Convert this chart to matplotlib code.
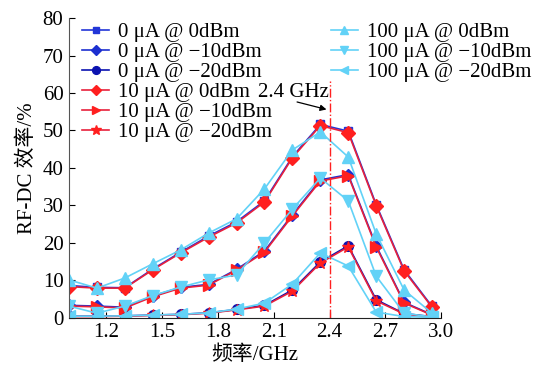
import matplotlib
matplotlib.use("Agg")
import matplotlib.pyplot as plt

plt.rcParams['font.family'] = ['Liberation Serif', 'Noto Sans CJK SC']
plt.rcParams['axes.unicode_minus'] = True

freq = [1.0, 1.15, 1.3, 1.45, 1.6, 1.75, 1.9, 2.05, 2.2, 2.35, 2.5, 2.65, 2.8, 2.95]

ua0_0dbm = [8.6, 8.1, 8.0, 13.0, 17.5, 21.8, 25.6, 31.2, 43.0, 51.6, 49.8, 30.2, 12.8, 3.0]
ua0_m10dbm = [3.3, 3.1, 2.8, 5.8, 8.1, 8.9, 12.9, 17.8, 27.5, 36.8, 38.2, 19.2, 4.1, 0.8]
ua0_m20dbm = [0.4, 0.4, 0.5, 0.7, 0.9, 1.3, 2.2, 3.3, 7.4, 14.9, 19.2, 4.8, 1.1, 0.3]

ua10_0dbm = [8.3, 7.9, 7.9, 12.8, 17.3, 21.5, 25.3, 30.9, 42.7, 51.3, 49.4, 29.9, 12.5, 2.8]
ua10_m10dbm = [3.1, 2.9, 2.6, 5.6, 7.9, 8.7, 12.7, 17.5, 27.2, 36.5, 37.9, 18.9, 3.9, 0.7]
ua10_m20dbm = [0.3, 0.3, 0.4, 0.6, 0.8, 1.2, 2.1, 3.1, 7.1, 14.6, 18.9, 4.5, 1.0, 0.2]

ua100_0dbm = [10.1, 7.9, 10.6, 14.4, 18.1, 22.6, 26.4, 34.4, 44.8, 49.6, 42.9, 22.4, 7.4, 1.2]
ua100_m10dbm = [3.1, 1.2, 3.1, 5.9, 8.2, 10.1, 11.4, 20.0, 29.0, 37.3, 31.2, 11.1, 1.2, 0.2]
ua100_m20dbm = [0.4, 0.4, 0.5, 0.7, 0.9, 1.3, 2.3, 3.9, 9.0, 17.3, 13.8, 1.5, 0.3, 0.1]

labels = ["0 μA @ 0dBm", "0 μA @ −10dBm", "0 μA @ −20dBm",
          "10 μA @ 0dBm", "10 μA @ −10dBm", "10 μA @ −20dBm",
          "100 μA @ 0dBm", "100 μA @ −10dBm", "100 μA @ −20dBm"]
series = [ua0_0dbm, ua0_m10dbm, ua0_m20dbm,
          ua10_0dbm, ua10_m10dbm, ua10_m20dbm,
          ua100_0dbm, ua100_m10dbm, ua100_m20dbm]
colors = ['#2236d8', '#1c2fd0', '#0b12b0',
          '#ff1f1f', '#ff1f1f', '#ff1f1f',
          '#62d2f7', '#62d2f7', '#62d2f7']
line_colors = ['#2236d8', '#1c2fd0', '#0b12b0',
               '#e8203c', '#e8203c', '#e8203c',
               '#62d2f7', '#62d2f7', '#62d2f7']
markers = ['s', 'D', 'o', 'D', '>', '*', '^', 'v', '<']
msizes = [6, 6, 7, 7, 8, 9, 8, 8, 8]

fig = plt.figure(figsize=(5.42, 3.69), dpi=100)
ax = fig.add_axes([0.1273, 0.139, 0.687, 0.812])

handles = []
for y, lab, c, lc, m, ms in zip(series, labels, colors, line_colors, markers, msizes):
    h, = ax.plot(freq, y, color=lc, lw=1.2, marker=m, ms=ms,
                 markerfacecolor=c, markeredgecolor=c, label=lab)
    handles.append(h)

ax.axvline(2.4, ymin=0, ymax=0.79, color='#ff2020', lw=1.0, ls='-.')

ax.text(2.397, 60.1, "2.4 GHz", ha='right', va='center', fontsize=15)
ax.annotate("", xy=(2.383, 55.6), xytext=(2.225, 57.6),
            arrowprops=dict(arrowstyle='-|>', color='black', lw=0.9,
                            shrinkA=0, shrinkB=0, mutation_scale=9))

ax.set_xlim(1.0, 3.0)
ax.set_ylim(0, 80)
ax.set_xticks([1.2, 1.5, 1.8, 2.1, 2.4, 2.7, 3.0])
ax.set_xticklabels(["1.2", "1.5", "1.8", "2.1", "2.4", "2.7", "3.0"])
ax.set_yticks(range(0, 81, 10))
ax.tick_params(direction='in', length=4, width=0.8, labelsize=15, pad=4)
for s in ['top', 'right']:
    ax.spines[s].set_visible(False)
ax.spines['left'].set_color('#555555')
ax.spines['bottom'].set_color('#222222')

ax.set_xlabel("频率/GHz", fontsize=15, labelpad=2)
ax.set_ylabel("RF-DC 效率/%", fontsize=15, labelpad=4)

leg_kw = dict(frameon=False, fontsize=15, handlelength=1.3, handletextpad=0.45,
              labelspacing=0.02, borderpad=0, borderaxespad=0, loc='upper left',
              markerscale=0.8)
leg1 = ax.legend(handles=handles[:6], bbox_to_anchor=(0.035, 0.985), **leg_kw)
ax.add_artist(leg1)
leg2 = ax.legend(handles=handles[6:], bbox_to_anchor=(0.703, 0.985), **leg_kw)

fig.savefig("out.png", dpi=100)
